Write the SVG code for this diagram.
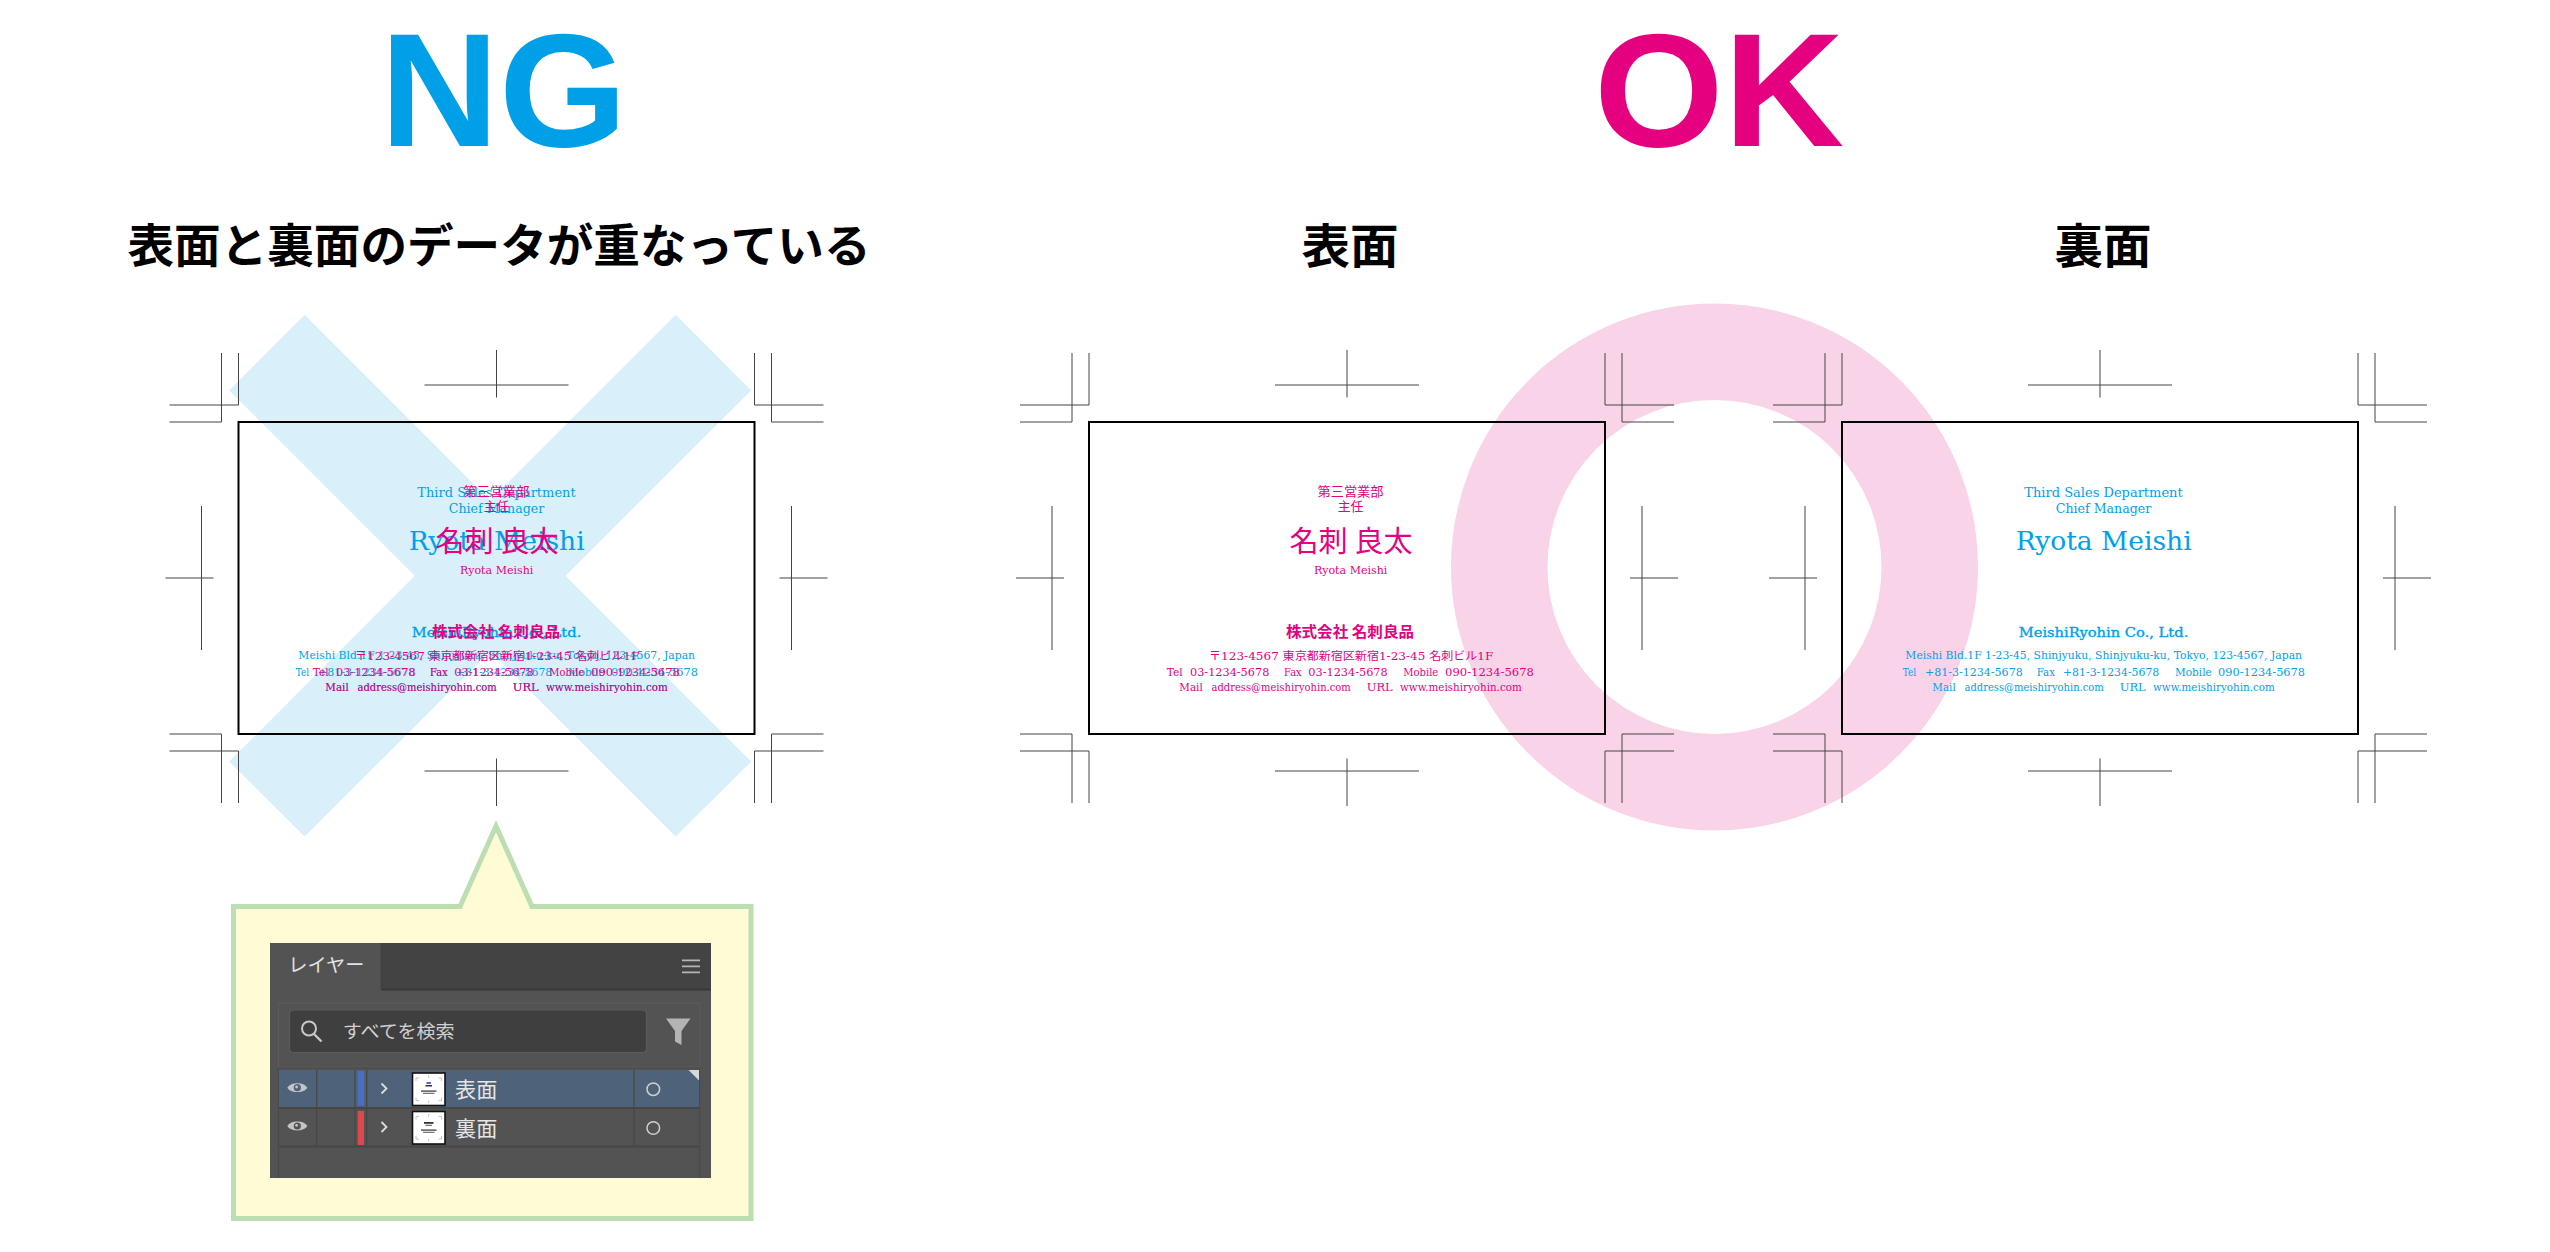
<svg xmlns="http://www.w3.org/2000/svg" width="2550" height="1252" viewBox="0 0 2550 1252">
<style>
.mark{fill:none;stroke:#444;stroke-width:1}
.card{fill:none;stroke:#000;stroke-width:2}
.jp{font-family:'Noto Sans CJK JP',sans-serif}
.lat{font-family:'DejaVu Serif','Noto Sans CJK JP',serif}
.pink{fill:#e4007f}
.blue{fill:#00a0e9}
.big{font-family:'Liberation Sans',Arial,sans-serif;font-weight:700;font-size:161px}
.head{font-family:'Noto Sans CJK JP',sans-serif;font-weight:700;fill:#000}
.ui{font-family:'Noto Sans CJK JP',sans-serif}
</style>
<defs>
<path id="marks" class="mark" d="M-17,-69V0M0,-69V-17M-69,-17H0M-69,0H-17M533,-69V0M516,-69V-17M585,-17H516M585,0H533M-17,381V312M0,381V329M-69,329H0M-69,312H-17M533,381V312M516,381V329M585,329H516M585,312H533M186,-37H330M258,-72V-24.5M186,349H330M258,336.5V384M-37,84V228M-73,156H-25M553,84V228M541,156H589"/>
<g id="mail-line" class="lat" font-size="10.5">
<text y="268.5"><tspan x="-171.2" textLength="23.4" lengthAdjust="spacingAndGlyphs">Mail</tspan><tspan x="-139" textLength="139.2" lengthAdjust="spacingAndGlyphs">address@meishiryohin.com</tspan><tspan x="16.2" textLength="26" lengthAdjust="spacingAndGlyphs">URL</tspan><tspan x="49.5" textLength="121.7" lengthAdjust="spacingAndGlyphs">www.meishiryohin.com</tspan></text>
</g>
<g id="front-text" class="pink">
<text class="jp" x="0" y="73.5" font-size="13" text-anchor="middle" textLength="66" lengthAdjust="spacingAndGlyphs">第三営業部</text>
<text class="jp" x="0" y="89" font-size="13" text-anchor="middle" textLength="25.7" lengthAdjust="spacingAndGlyphs">主任</text>
<text class="jp" x="0.5" y="129.5" font-size="29" text-anchor="middle" textLength="123" lengthAdjust="spacingAndGlyphs">名刺 良太</text>
<text class="lat" x="0.2" y="152" font-size="11.3" text-anchor="middle" textLength="73.3" lengthAdjust="spacingAndGlyphs">Ryota Meishi</text>
<text class="jp" x="-0.5" y="214.5" font-size="15" font-weight="700" text-anchor="middle" textLength="128" lengthAdjust="spacingAndGlyphs">株式会社 名刺良品</text>
<text class="lat" x="0.7" y="237.5" font-size="11.5" text-anchor="middle" textLength="284.3" lengthAdjust="spacingAndGlyphs">〒123-4567 東京都新宿区新宿1-23-45 名刺ビル1F</text>
<text class="lat" y="253.5" font-size="10.5"><tspan x="-183.8" textLength="16" lengthAdjust="spacingAndGlyphs">Tel</tspan><tspan x="-160.5" textLength="79.3" lengthAdjust="spacingAndGlyphs">03-1234-5678</tspan><tspan x="-66.5" textLength="17.7" lengthAdjust="spacingAndGlyphs">Fax</tspan><tspan x="-42.2" textLength="79.4" lengthAdjust="spacingAndGlyphs">03-1234-5678</tspan><tspan x="52.8" textLength="35" lengthAdjust="spacingAndGlyphs">Mobile</tspan><tspan x="94.5" textLength="89" lengthAdjust="spacingAndGlyphs">090-1234-5678</tspan></text>
<use href="#mail-line"/>
</g>
<g id="back-text" class="blue">
<text class="lat" x="0" y="75" font-size="12" text-anchor="middle" textLength="158.4" lengthAdjust="spacingAndGlyphs">Third Sales Department</text>
<text class="lat" x="0" y="91" font-size="12" text-anchor="middle" textLength="95.3" lengthAdjust="spacingAndGlyphs">Chief Manager</text>
<text class="lat" x="0.2" y="128" font-size="26.5" text-anchor="middle" textLength="176" lengthAdjust="spacingAndGlyphs">Ryota Meishi</text>
<text class="lat" x="0" y="215.3" font-size="13" text-anchor="middle" textLength="169.6" lengthAdjust="spacingAndGlyphs" stroke="#00a0e9" stroke-width="0.35">MeishiRyohin Co., Ltd.</text>
<text class="lat" x="0.2" y="236.5" font-size="10.5" text-anchor="middle" textLength="396.7" lengthAdjust="spacingAndGlyphs">Meishi Bld.1F 1-23-45, Shinjyuku, Shinjyuku-ku, Tokyo, 123-4567, Japan</text>
<text class="lat" y="253.5" font-size="10.5"><tspan x="-200.8" textLength="13.3" lengthAdjust="spacingAndGlyphs">Tel</tspan><tspan x="-178.5" textLength="97.7" lengthAdjust="spacingAndGlyphs">+81-3-1234-5678</tspan><tspan x="-66.8" textLength="18.3" lengthAdjust="spacingAndGlyphs">Fax</tspan><tspan x="-40.5" textLength="96.3" lengthAdjust="spacingAndGlyphs">+81-3-1234-5678</tspan><tspan x="71.5" textLength="36.7" lengthAdjust="spacingAndGlyphs">Mobile</tspan><tspan x="114.5" textLength="87" lengthAdjust="spacingAndGlyphs">090-1234-5678</tspan></text>
<use href="#mail-line"/>
</g>
</defs>
<rect width="2550" height="1252" fill="#fff"/>

<g id="title-ng">
<text class="big blue" x="503.5" y="146" text-anchor="middle" textLength="247" lengthAdjust="spacingAndGlyphs">NG</text>
<text class="head" x="499" y="262" font-size="46" text-anchor="middle" textLength="743" lengthAdjust="spacingAndGlyphs">表面と裏面のデータが重なっている</text>
</g>
<g id="title-ok">
<text class="big pink" x="1719" y="146" text-anchor="middle" textLength="250" lengthAdjust="spacingAndGlyphs">OK</text>
<text class="head" x="1350" y="263" font-size="47" text-anchor="middle" textLength="97" lengthAdjust="spacingAndGlyphs">表面</text>
<text class="head" x="2103" y="263" font-size="47" text-anchor="middle" textLength="97" lengthAdjust="spacingAndGlyphs">裏面</text>
</g>

<g id="ng-cross" fill="#d9f0fb">
<polygon points="304.6,314.7 751.2,761.6 675.7,836.6 229.2,390.5"/>
<polygon points="675.7,314.7 751.2,390.5 304.6,836.6 229.2,761.6"/>
</g>
<g id="ok-ring">
<circle cx="1714.5" cy="567" r="215.25" fill="none" stroke="#f9d4e9" stroke-width="96.5"/>
</g>

<g id="ng-card">
<use href="#marks" x="238.5" y="422"/>
<rect class="card" x="238.5" y="422" width="516" height="312"/>
<use href="#back-text" x="496.5" y="422"/>
<use href="#front-text" x="496.5" y="422"/>
</g>

<g id="ok-front-card">
<use href="#marks" x="1089" y="422"/>
<rect class="card" x="1089" y="422" width="516" height="312"/>
<use href="#front-text" x="1350.5" y="422"/>
</g>

<g id="ok-back-card">
<use href="#marks" x="1842" y="422"/>
<rect class="card" x="1842" y="422" width="516" height="312"/>
<use href="#back-text" x="2103.5" y="422"/>
</g>

<g id="callout">
<path d="M233.5,906.5H460L496,826L532,906.5H751V1218.5H233.5Z" fill="#fffbd5" stroke="#bcdeb2" stroke-width="5"/>
</g>

<g id="layers-panel">
<rect x="270" y="943" width="441" height="235" fill="#535353"/>
<rect x="381.7" y="943" width="329.3" height="46" fill="#434343"/>
<line x1="381.7" y1="989.5" x2="711" y2="989.5" stroke="#383838" stroke-width="2"/>
<line x1="381.2" y1="943" x2="381.2" y2="990" stroke="#3a3a3a" stroke-width="1"/>
<text class="ui" x="288.3" y="972" font-size="19" fill="#e2e2e2" textLength="76" lengthAdjust="spacingAndGlyphs">レイヤー</text>
<path d="M682,960.3H700M682,966.3H700M682,972.3H700" stroke="#b5b5b5" stroke-width="1.8" fill="none"/>
<rect x="278.5" y="1003" width="421.5" height="64" fill="none" stroke="#5b5b5b" stroke-width="1.2"/>
<rect x="289.5" y="1010" width="357" height="42.5" rx="4" fill="#3f3f3f" stroke="#5c5c5c" stroke-width="1.2"/>
<circle cx="309" cy="1028.5" r="7" fill="none" stroke="#c8c8c8" stroke-width="2"/>
<line x1="314" y1="1034" x2="321.5" y2="1041.5" stroke="#c8c8c8" stroke-width="2.4"/>
<text class="ui" x="342.7" y="1037.5" font-size="18.7" fill="#d0d0d0" textLength="112" lengthAdjust="spacingAndGlyphs">すべてを検索</text>
<polygon points="666,1018.5 690.5,1018.5 681.5,1031 681.5,1045 675,1041.5 675,1031" fill="#b4b4b4"/>
<path d="M278.5,1178V1068H699.5V1178" fill="none" stroke="#4a4a4a" stroke-width="1.2"/>
<rect x="279" y="1070" width="420" height="37" fill="#4e6379"/>
<line x1="279" y1="1108" x2="699" y2="1108" stroke="#464646" stroke-width="2"/>
<line x1="279" y1="1146.5" x2="699" y2="1146.5" stroke="#464646" stroke-width="2"/>
<path d="M316.7,1070V1146M355,1070V1146M366.7,1070V1146M634,1070V1146" stroke="#464646" stroke-width="1.2" fill="none"/>
<rect x="357.7" y="1071" width="6.3" height="34.5" fill="#4a6fc0"/>
<rect x="357.7" y="1111" width="6.3" height="34" fill="#e0474c"/>
<g id="eye1">
<path d="M287.3,1087.7C290.8,1081.8 303.8,1081.8 307.3,1087.7C303.8,1093.6 290.8,1093.6 287.3,1087.7Z" fill="#c4c4c4"/>
<circle cx="297.3" cy="1087.7" r="3.6" fill="#4e6379"/>
<circle cx="296.6" cy="1087" r="1.4" fill="#c4c4c4"/>
</g>
<g id="eye2">
<path d="M287.3,1126C290.8,1120.1 303.8,1120.1 307.3,1126C303.8,1131.9 290.8,1131.9 287.3,1126Z" fill="#c4c4c4"/>
<circle cx="297.3" cy="1126" r="3.6" fill="#535353"/>
<circle cx="296.6" cy="1125.3" r="1.4" fill="#c4c4c4"/>
</g>
<path d="M381.5,1083.5L386.5,1088.5L381.5,1093.5M381.5,1122L386.5,1127L381.5,1132" stroke="#dcdcdc" stroke-width="1.8" fill="none"/>
<g id="thumb1">
<rect x="412.5" y="1073" width="32.5" height="32.5" fill="#fff" stroke="#111" stroke-width="1.6"/>
<path d="M416,1078H419M416,1078V1081M441.5,1078H438.5M441.5,1078V1081M416,1100.5H419M416,1100.5V1097.5M441.5,1100.5H438.5M441.5,1100.5V1097.5M428.7,1075.5V1078M428.7,1100.5V1103" stroke="#aaa" stroke-width="0.7" fill="none"/>
<rect x="426.5" y="1082" width="4.5" height="2" fill="#4a6fc0"/>
<rect x="425.5" y="1085" width="6.5" height="1.5" fill="#333"/>
<rect x="421" y="1090.5" width="15.5" height="1.2" fill="#333"/>
<rect x="423" y="1092.8" width="11.5" height="1" fill="#555"/>
</g>
<g id="thumb2">
<rect x="412.5" y="1111.5" width="32.5" height="32.5" fill="#fff" stroke="#111" stroke-width="1.6"/>
<path d="M416,1116.5H419M416,1116.5V1119.5M441.5,1116.5H438.5M441.5,1116.5V1119.5M416,1139H419M416,1139V1136M441.5,1139H438.5M441.5,1139V1136M428.7,1114V1116.5M428.7,1139V1141.5" stroke="#aaa" stroke-width="0.7" fill="none"/>
<rect x="424" y="1122" width="9.5" height="1.8" fill="#333"/>
<rect x="425.5" y="1124.8" width="6.5" height="1" fill="#555"/>
<rect x="421" y="1129.5" width="15.5" height="1.2" fill="#333"/>
<rect x="423" y="1131.8" width="11.5" height="1" fill="#555"/>
</g>
<text class="ui" x="455" y="1097" font-size="21" fill="#e6e6e6" textLength="42.3" lengthAdjust="spacingAndGlyphs">表面</text>
<text class="ui" x="455" y="1135.5" font-size="21" fill="#e6e6e6" textLength="42.3" lengthAdjust="spacingAndGlyphs">裏面</text>
<circle cx="653.3" cy="1089.2" r="6.3" fill="none" stroke="#d0d0d0" stroke-width="1.5"/>
<circle cx="653.3" cy="1128" r="6.3" fill="none" stroke="#d0d0d0" stroke-width="1.5"/>
<polygon points="688.5,1070 699,1070 699,1080.5" fill="#d8d8d8"/>
</g>
</svg>
